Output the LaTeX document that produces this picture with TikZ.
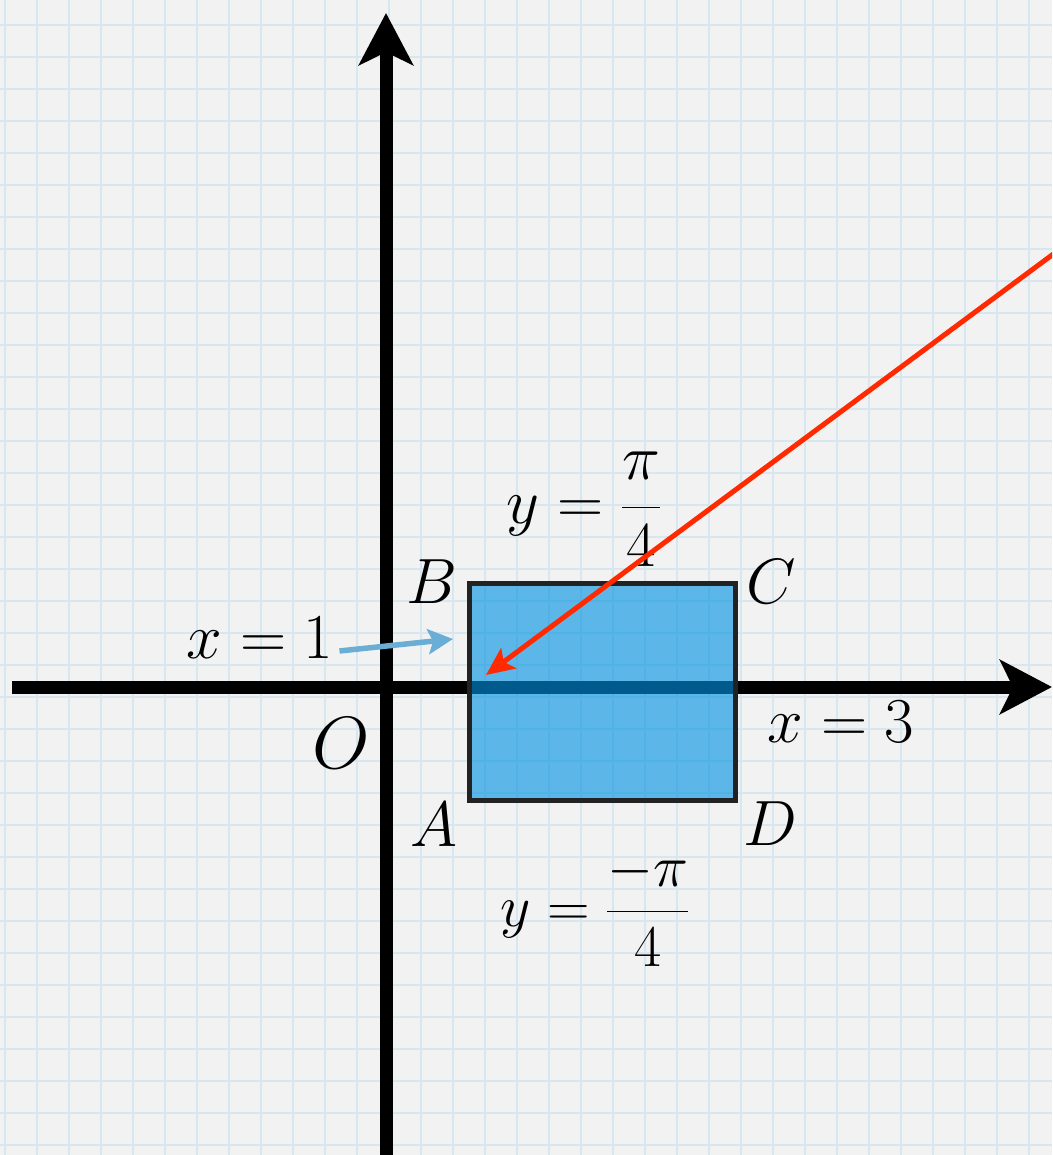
\RequirePackage{fix-cm}
\documentclass[tikz,border=0pt]{standalone}
\usepackage{amsmath}
\usetikzlibrary{arrows.meta}
\definecolor{paper}{HTML}{F2F2F2}
\definecolor{gridline}{HTML}{D6E7EF}
\definecolor{boxfill}{RGB}{0,146,227}
\definecolor{boxedge}{HTML}{222222}
\definecolor{hint}{HTML}{6AAED5}
\definecolor{ray}{HTML}{FF2A00}

\begin{document}
\begin{tikzpicture}[x=1pt,y=-1pt,
   minorgrid/.style={draw=gridline,line width=1.3pt},
   majorgrid/.style={draw=gridline,line width=2.6pt},
   axis/.style={line width=13pt,-{Stealth[length=52pt,width=54pt,inset=13pt]}},
   lbl/.style={inner sep=0pt,anchor=base,font=\fontsize{64}{70}\selectfont}]
  \clip (0,0) rectangle (1052,1155);
  \fill[paper] (0,0) rectangle (1052,1155);
  % squared paper
  \foreach \gx in {0,...,32} \draw[minorgrid] ({5+32*\gx},0) -- ++(0,1155);
  \foreach \gy in {0,...,35} \draw[minorgrid] (0,{25+32*\gy}) -- ++(1052,0);
  \foreach \gx in {0,...,5} \draw[majorgrid] ({69+192*\gx},0) -- ++(0,1155);
  \foreach \gy in {0,...,5} \draw[majorgrid] (0,{153+192*\gy}) -- ++(1052,0);
  % axes
  \coordinate (xstart) at (12,687);
  \coordinate (xend) at (1052,687);
  \coordinate (ystart) at (386,1160);
  \coordinate (yend) at (386,13);
  \draw[axis] (xstart) -- (xend);
  \draw[axis] (ystart) -- (yend);
  % the region
  \coordinate (A) at (469.5,800.5);
  \coordinate (C) at (735.5,583.5);
  \fill[boxfill,fill opacity=0.62] (A) rectangle (C);
  \draw[boxedge,line width=5pt] (A) rectangle (C);
  % labels
  \node[lbl] (lO) at (341,768) {\fontsize{74}{80}\selectfont$O$};
  \node[lbl] (lA) at (434,846) {$A$};
  \node[lbl] (lB) at (432,603) {$B$};
  \node[lbl] (lC) at (771,603) {$C$};
  \node[lbl] (lD) at (770,845) {$D$};
  \node[lbl] (x1) at (260,658) {$x=1$};
  \node[lbl] (x3) at (841,742) {$x=3$};
  \node[lbl] (ytop) at (584,523) {$y=\dfrac{\pi}{4}$};
  \node[lbl,font=\fontsize{59}{64}\selectfont] (ybot) at (595,926) {$y=\dfrac{-\pi}{4}$};
  % arrows
  \coordinate (hinttip) at (453,639);
  \draw[hint,line width=5.5pt,-{Stealth[length=25pt,width=25pt,inset=5pt]}]
     ([shift={(6,-7)}]x1.base east) -- (hinttip);
  \coordinate (raystart) at (1062,247.6);
  \coordinate (raytip) at (486,675);
  \draw[ray,line width=5pt,-{Stealth[length=28pt,width=25pt,inset=6pt]}]
     (raystart) -- (raytip);
\end{tikzpicture}
\end{document}
